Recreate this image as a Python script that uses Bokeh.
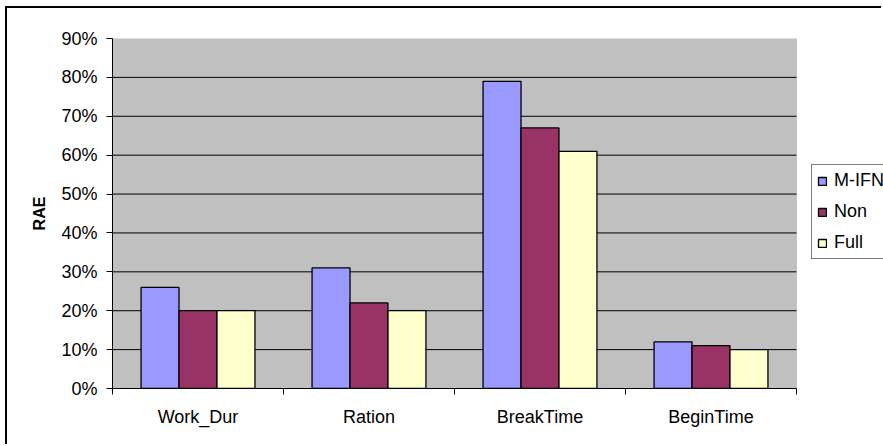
from bokeh.plotting import figure
from bokeh.models import (ColumnDataSource, FixedTicker, NumeralTickFormatter,
                          Legend, LegendItem, Range1d, BoxAnnotation)
from bokeh.embed import file_html
from bokeh.resources import INLINE

# Relative absolute error per attribute, three methods
categories = ["Work_Dur", "Ration", "BreakTime", "BeginTime"]
series_names = ["M-IFN", "Non", "Full"]
m_ifn = [0.26, 0.31, 0.79, 0.12]
non = [0.20, 0.22, 0.67, 0.11]
full = [0.20, 0.20, 0.61, 0.10]
y_ticks = [0.0, 0.1, 0.2, 0.3, 0.4, 0.5, 0.6, 0.7, 0.8, 0.9]

colors = ["#9999FF", "#993366", "#FFFFCC"]
FONT = "Liberation Sans"

n_cat = len(categories)
plot_px = 684          # width of the grey plotting area
frame_px = 771         # frame runs on to the right edge so the legend fits
x_end = n_cat * frame_px / plot_px

p = figure(width=876, height=438, output_backend="svg", toolbar_location=None,
           x_range=Range1d(0, x_end), y_range=Range1d(0, y_ticks[-1]),
           min_border_left=105, min_border_right=0,
           min_border_top=30, min_border_bottom=58)
p.margin = (6, 0, 0, 5)
p.styles = {"border-left": "2px solid black", "border-top": "2px solid black"}

p.background_fill_color = "white"
p.border_fill_color = "white"
p.outline_line_color = None

# grey plotting area
p.add_layout(BoxAnnotation(left=0, right=n_cat, bottom=0, top=y_ticks[-1],
                           fill_color="#C0C0C0", fill_alpha=1,
                           line_color="#808080", line_width=1, level="image"))

# horizontal grid lines limited to the plotting area
grid_y = y_ticks[1:-1]
p.segment(x0=[0] * len(grid_y), x1=[n_cat] * len(grid_y), y0=grid_y, y1=grid_y,
          line_color="black", line_width=1)

centers = [i + 0.5 for i in range(n_cat)]
bar_w = 0.222
offsets = [-bar_w, 0.0, bar_w]
renderers = []
for vals, off, col in zip([m_ifn, non, full], offsets, colors):
    src = ColumnDataSource(dict(x=[c + off for c in centers], top=vals))
    r = p.vbar(x="x", top="top", width=bar_w, bottom=0, source=src,
               fill_color=col, line_color="black", line_width=1.3)
    renderers.append(r)

# y axis
p.yaxis.ticker = FixedTicker(ticks=y_ticks)
p.yaxis.formatter = NumeralTickFormatter(format="0%")
p.yaxis.major_tick_out = 6
p.yaxis.major_tick_in = 0
p.yaxis.minor_tick_line_color = None
p.yaxis.axis_line_color = "black"
p.yaxis.major_tick_line_color = "black"
p.yaxis.major_label_text_font = FONT
p.yaxis.major_label_text_font_size = "18px"
p.yaxis.major_label_text_color = "black"
p.yaxis.major_label_standoff = 9
p.yaxis.axis_label = "RAE"
p.yaxis.axis_label_text_font = FONT
p.yaxis.axis_label_text_font_style = "bold"
p.yaxis.axis_label_text_font_size = "16px"
p.yaxis.axis_label_text_color = "black"
p.yaxis.axis_label_standoff = 10

# x axis: labels at category centres, tick marks at category boundaries
p.xaxis.bounds = (0, n_cat)
p.xaxis.ticker = FixedTicker(ticks=centers, minor_ticks=list(range(n_cat + 1)))
p.xaxis.major_label_overrides = {c: name for c, name in zip(centers, categories)}
p.xaxis.major_tick_line_color = None
p.xaxis.major_tick_out = 6
p.xaxis.minor_tick_out = 6
p.xaxis.minor_tick_in = 0
p.xaxis.minor_tick_line_color = "black"
p.xaxis.axis_line_color = "black"
p.xaxis.major_label_text_font = FONT
p.xaxis.major_label_text_font_size = "18px"
p.xaxis.major_label_text_color = "black"
p.xaxis.major_label_standoff = 12

p.xgrid.grid_line_color = None
p.ygrid.grid_line_color = None

# legend
items = [LegendItem(label=n, renderers=[r]) for n, r in zip(series_names, renderers)]
legend = Legend(items=items, location=(699, 129), orientation="vertical",
                label_text_font=FONT, label_text_font_size="18px",
                label_text_color="black",
                glyph_width=10, glyph_height=10, label_height=20, label_width=70,
                spacing=10, padding=5, margin=0, label_standoff=7,
                border_line_color="black", border_line_width=1,
                background_fill_color="white", background_fill_alpha=1)
p.add_layout(legend, "center")

open("out.html", "w").write(file_html(p, INLINE))
